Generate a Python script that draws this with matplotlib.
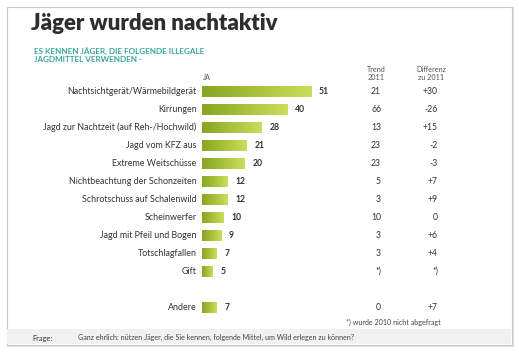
import numpy as np
import matplotlib
matplotlib.use("Agg")
import matplotlib.pyplot as plt
from matplotlib.colors import LinearSegmentedColormap
from matplotlib.patches import Rectangle

plt.rcParams['font.family'] = ['Lato', 'DejaVu Sans']

# data
categories = ["Nachtsichtgerät/Wärmebildgerät", "Kirrungen", "Jagd zur Nachtzeit (auf Reh-/Hochwild)",
              "Jagd vom KFZ aus", "Extreme Weitschüsse", "Nichtbeachtung der Schonzeiten",
              "Schrotschuss auf Schalenwild", "Scheinwerfer", "Jagd mit Pfeil und Bogen",
              "Totschlagfallen", "Gift", "Andere"]
ja = [51, 40, 28, 21, 20, 12, 12, 10, 9, 7, 5, 7]
trend_2011 = ["21", "66", "13", "23", "23", "5", "3", "10", "3", "3", "*)", "0"]
diff_2011 = ["+30", "-26", "+15", "-2", "-3", "+7", "+9", "0", "+6", "+4", "*)", "+7"]
rows = [0, 1, 2, 3, 4, 5, 6, 7, 8, 9, 10, 12]

W, H = 519, 354
fig = plt.figure(figsize=(W / 100, H / 100), dpi=100)
fig.patch.set_facecolor("white")

# background axes in pixel coords
bg = fig.add_axes([0, 0, 1, 1])
bg.set_xlim(0, W)
bg.set_ylim(H, 0)
bg.axis("off")
bg.add_patch(Rectangle((8, 8), 505, 338, facecolor="none", edgecolor="#e2e2e2", lw=1.5))
bg.add_patch(Rectangle((6.5, 6.5), 505, 338, facecolor="white", edgecolor="#c8c8c8", lw=0.8))
bg.add_patch(Rectangle((7, 329), 504, 15, facecolor="#f1f1f1", edgecolor="none"))

dark = "#333333"
bg.text(31, 24, "Jäger wurden nachtaktiv", fontsize=16, fontweight="heavy", color="#2e2e2e",
        va="center", ha="left")
teal = "#3aa89e"
bg.text(34, 51.5, "ES KENNEN JÄGER, DIE FOLGENDE ILLEGALE", fontsize=5.9, fontweight="bold",
        color=teal, va="center")
bg.text(34, 59.5, "JAGDMITTEL VERWENDEN -", fontsize=5.9, fontweight="bold", color=teal, va="center")
bg.text(203, 78, "JA", fontsize=5.2, color="#555555", va="center")
bg.text(376, 69, "Trend", fontsize=5.2, color="#555555", va="center", ha="center")
bg.text(376, 77, "2011", fontsize=5.2, color="#555555", va="center", ha="center")
bg.text(431, 69, "Differenz", fontsize=5.2, color="#555555", va="center", ha="center")
bg.text(431, 77, "zu 2011", fontsize=5.2, color="#555555", va="center", ha="center")
bg.text(441, 322, "*) wurde 2010 nicht abgefragt", fontsize=5.1, color="#444444", va="center", ha="right")
bg.text(32, 338, "Frage:", fontsize=5.4, color=dark, va="center")
bg.text(78, 337.5, "Ganz ehrlich: nützen Jäger, die Sie kennen, folgende Mittel, um Wild erlegen zu können?",
        fontsize=5.1, color="#444444", va="center")

# bar axes
x0, scale = 201.5, 2.14
top, step = 91.5, 18
ax = fig.add_axes([x0 / W, (H - (top + 12.5 * step)) / H, (512 - x0) / W, 13 * step / H])
ax.set_xlim(0, (512 - x0) / scale)
ax.set_ylim(12.5, -0.5)
ax.axis("off")

cmap = LinearSegmentedColormap.from_list("g", ["#88a524", "#a8c23a", "#cbdd5c"])
grad = np.linspace(0, 1, 64).reshape(1, -1)
bh = 0.6
for lab, v, t, d, r in zip(categories, ja, trend_2011, diff_2011, rows):
    ax.imshow(grad, cmap=cmap, extent=[0, v, r + bh / 2, r - bh / 2], aspect="auto",
              interpolation="bilinear", zorder=2)
    ax.text(-2.3, r, lab, ha="right", va="center", fontsize=6.4, color=dark, clip_on=False)
    ax.text(v + 3.8, r, str(v), ha="left", va="center", fontsize=6.2, color=dark, fontweight="bold")
    ax.text((381 - x0) / scale, r, t, ha="right", va="center", fontsize=6.2, color=dark)
    ax.text((438 - x0) / scale, r, d, ha="right", va="center", fontsize=6.2, color=dark)
ax.set_xlim(0, (512 - x0) / scale)
ax.set_ylim(12.5, -0.5)

fig.savefig("out.png", dpi=100)
